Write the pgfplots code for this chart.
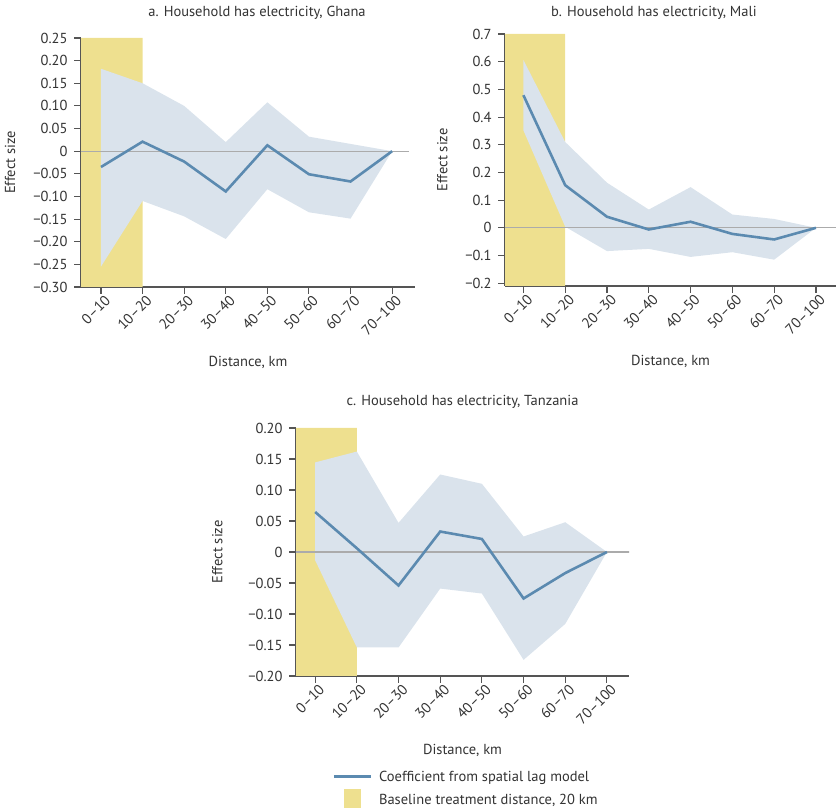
\documentclass[border=0pt]{standalone}
\usepackage{pgfplots}
\pgfplotsset{compat=1.18}
\usepackage{fontspec}
\setmainfont{PT Sans}
\definecolor{bandc}{HTML}{DAE3EC}
\definecolor{yel}{HTML}{EEE08F}
\definecolor{linec}{HTML}{5B8AB0}
\definecolor{zeroc}{HTML}{ABABAB}
\definecolor{axc}{HTML}{555555}
\definecolor{txt}{HTML}{333333}
\newcommand{\fs}{\fontsize{14.5bp}{16.5bp}\selectfont}
\pgfplotsset{
  panel/.style={
    scale only axis,
    anchor=south west,
    axis x line*=bottom, axis y line*=left,
    axis line style={axc, line width=1.3pt},
    tick style={axc, line width=1.1pt},
    major tick length=7bp,
    tick align=outside,
    xtick={0,...,7},
    xticklabels={0--10,10--20,20--30,30--40,40--50,50--60,60--70,70--100},
    x tick label style={rotate=45, anchor=north east, inner sep=2bp, font=\fs, text=txt, xshift=4bp},
    y tick label style={font=\fs, text=txt, xshift=-3bp},
    xmin=-0.48, xmax=7.55,
    label style={font=\fs, text=txt},
    title style={font=\fs, text=txt},
    xlabel style={at={(rel axis cs:0.5,-0.262)}, anchor=north},
    clip=true,
  },
}
\begin{document}
\begin{tikzpicture}[x=1bp,y=1bp]
\useasboundingbox (0,0) rectangle (836,809);
% Panel a
\begin{axis}[panel, at={(81bp,522bp)}, width=334bp, height=249bp,
  ymin=-0.30, ymax=0.25,
  ytick={-0.30,-0.25,-0.20,-0.15,-0.10,-0.05,0,0.05,0.10,0.15,0.20,0.25},
  yticklabels={−0.30,−0.25,−0.20,−0.15,−0.10,−0.05,0,0.05,0.10,0.15,0.20,0.25},
  ylabel={Effect size}, ylabel style={at={(rel axis cs:-0.186,0.5)}, anchor=south},
  xlabel={Distance, km},
  title={a. Household has electricity, Ghana}, title style={at={(rel axis cs:0.527,1)}, anchor=south, yshift=9bp}]
\addplot[fill=yel, draw=none] coordinates {(-1,-0.30) (1,-0.30) (1,0.25) (-1,0.25)} \closedcycle;
\addplot[fill=bandc, draw=none] coordinates {
 (0,0.182) (1,0.150) (2,0.100) (3,0.020) (4,0.108) (5,0.032) (6,0.016) (7,0)
 (6,-0.149) (5,-0.135) (4,-0.084) (3,-0.194) (2,-0.144) (1,-0.110) (0,-0.255)} -- cycle;
\addplot[zeroc, line width=1.1pt] coordinates {(-1,0) (7.4,0)};
\addplot[linec, line width=2.6pt] coordinates {
 (0,-0.035) (1,0.021) (2,-0.023) (3,-0.089) (4,0.013) (5,-0.051) (6,-0.067) (7,0)};
\end{axis}
% Panel b
\begin{axis}[panel, at={(505bp,523bp)}, width=331bp, height=252bp,
  xmin=-0.44, xmax=7.48,
  ymin=-0.21, ymax=0.70,
  ytick={-0.2,-0.1,0,0.1,0.2,0.3,0.4,0.5,0.6,0.7},
  yticklabels={−0.2,−0.1,0,0.1,0.2,0.3,0.4,0.5,0.6,0.7},
  ylabel={Effect size}, ylabel style={at={(rel axis cs:-0.163,0.5)}, anchor=south},
  xlabel={Distance, km},
  title={b. Household has electricity, Mali}, title style={at={(rel axis cs:0.45,1)}, anchor=south, yshift=5bp}]
\addplot[fill=yel, draw=none] coordinates {(-1,-0.21) (1,-0.21) (1,0.70) (-1,0.70)} \closedcycle;
\addplot[fill=bandc, draw=none] coordinates {
 (0,0.606) (1,0.310) (2,0.163) (3,0.066) (4,0.147) (5,0.048) (6,0.032) (7,0)
 (6,-0.115) (5,-0.088) (4,-0.105) (3,-0.076) (2,-0.084) (1,0.004) (0,0.352)} -- cycle;
\addplot[zeroc, line width=1.1pt] coordinates {(-1,0) (8,0)};
\addplot[linec, line width=2.6pt] coordinates {
 (0,0.479) (1,0.154) (2,0.040) (3,-0.006) (4,0.022) (5,-0.022) (6,-0.042) (7,0)};
\end{axis}
% Panel c
\begin{axis}[panel, at={(296bp,133bp)}, width=333bp, height=248bp,
  xmin=-0.46, xmax=7.53,
  ymin=-0.20, ymax=0.20,
  ytick={-0.20,-0.15,-0.10,-0.05,0,0.05,0.10,0.15,0.20},
  yticklabels={−0.20,−0.15,−0.10,−0.05,0,0.05,0.10,0.15,0.20},
  ylabel={Effect size}, ylabel style={at={(rel axis cs:-0.21,0.5)}, anchor=south},
  xlabel={Distance, km},
  title={c. Household has electricity, Tanzania}, title style={at={(rel axis cs:0.50,1)}, anchor=south, yshift=10bp},
  legend style={at={(rel axis cs:0.10,-0.365)}, anchor=north west, draw=none, fill=none,
    font=\fs, text=txt, row sep=4bp, cells={anchor=west}},
  ]
\addplot[fill=yel, draw=none, forget plot] coordinates {(-1,-0.20) (1,-0.20) (1,0.20) (-1,0.20)} \closedcycle;
\addplot[fill=bandc, draw=none, forget plot] coordinates {
 (0,0.1445) (1,0.162) (2,0.047) (3,0.125) (4,0.110) (5,0.025) (6,0.048) (7,0)
 (6,-0.116) (5,-0.174) (4,-0.067) (3,-0.059) (2,-0.154) (1,-0.154) (0,-0.0135)} -- cycle;
\addplot[zeroc, line width=1.1pt, forget plot] coordinates {(-1,0) (8,0)};
\addplot[linec, line width=2.6pt,
  legend image code/.code={\path (0bp,0bp) (42bp,0bp); \draw[linec, line width=2.6pt] (0bp,0bp) -- (37bp,0bp);}] coordinates {
 (0,0.0645) (1,0.006) (2,-0.054) (3,0.033) (4,0.021) (5,-0.075) (6,-0.034) (7,0)};
\addlegendentry{Coefficient from spatial lag model}
\addlegendimage{legend image code/.code={\path (0bp,0bp) (42bp,0bp); \fill[yel] (10bp,-7bp) rectangle (26bp,11bp);}}
\addlegendentry{Baseline treatment distance, 20 km}
\end{axis}
\end{tikzpicture}
\end{document}
